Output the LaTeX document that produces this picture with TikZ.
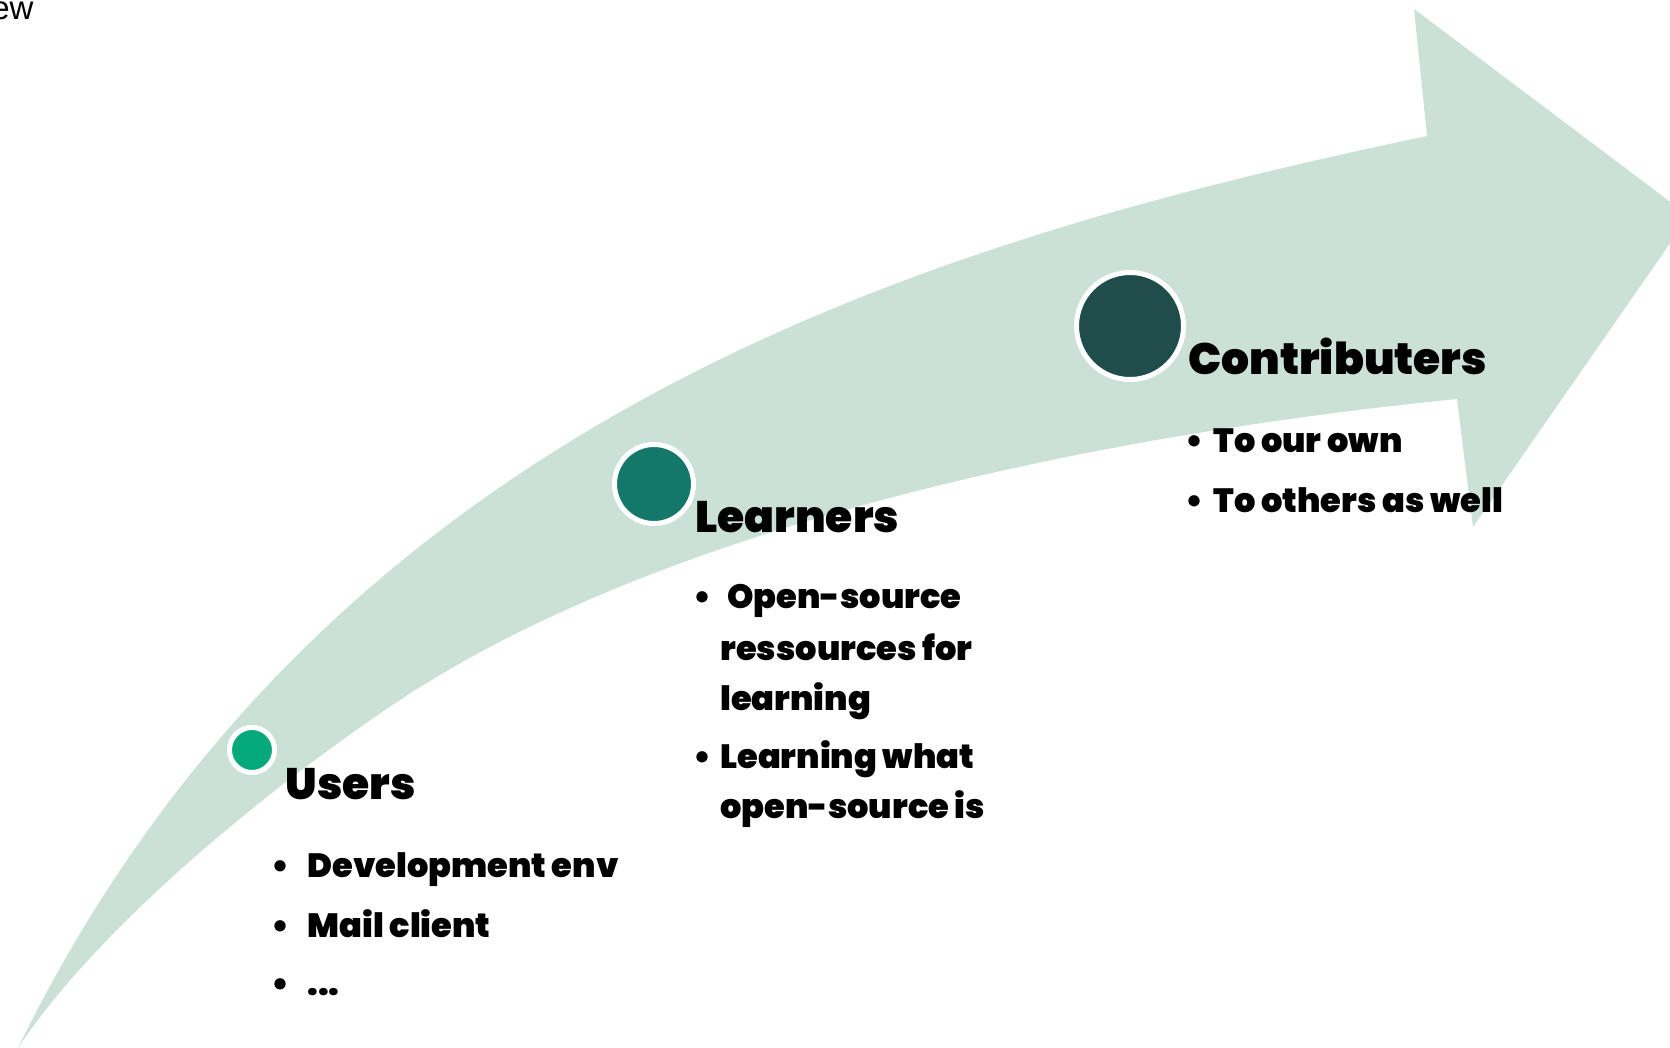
\documentclass[tikz,border=0pt]{standalone}
\usepackage{fontspec}
\setmainfont{Poppins}
\newfontfamily\heavyfont{Poppins Black}
\newfontfamily\plainfont{Liberation Sans}

\definecolor{band}{HTML}{CBE1D8}
\definecolor{usercol}{HTML}{03A97A}
\definecolor{learncol}{HTML}{13786A}
\definecolor{contribcol}{HTML}{1E4D4C}

\tikzset{
  stage/.style={circle, draw=white, line width=2.5pt, inner sep=0pt},
  head/.style={anchor=base west, inner sep=0pt, font=\heavyfont\fontsize{22}{26}\selectfont},
  item/.style={anchor=base west, inner sep=0pt, font=\heavyfont\fontsize{16.8}{20}\selectfont},
  dot/.style={anchor=base, inner sep=0pt, font=\heavyfont\fontsize{16.8}{20}\selectfont},
}

\begin{document}
\begin{tikzpicture}[x=0.5pt, y=-0.5pt]

      \useasboundingbox (0,0) rectangle (1670,1048);
      \clip (0,0) rectangle (1670,1048);

      % the curved arrow
      \fill [band] (18,1048) .. controls (326,418) and (927,241) .. (1427,136)
        -- (1414,9) -- (1689,216) -- (1473,527) -- (1457,399)
        .. controls (1057,439) and (650,535) .. (400,700)
        .. controls (275,783) and (100,924) .. cycle;

      \node[anchor=base west, inner sep=0pt, font=\plainfont\fontsize{16.5}{20}\selectfont]
        (title) at (-9,20) {ew};

      \node[stage, fill=usercol, minimum size=22.5pt] (cu) at (252,750) {};
      \node[stage, fill=learncol, minimum size=39.5pt] (cl) at (654,484) {};
      \node[stage, fill=contribcol, minimum size=53.5pt] (cc) at (1130,326) {};

      \node[head] (users) at (285,799) {Users};
      \node[head] (learners) at (695,532) {Learners};
      \node[head] (contrib) at (1188,374) {Contributers};

      \foreach \x/\y [count=\i] in {281/877, 281/937, 281/995, 702/608,
                                    702/768, 1194/452, 1194/512}
        \node[dot] (b\i) at (\x,\y) {\textbullet};

      \node[item] (u1) at (307,877) {Development env};
      \node[item] (u2) at (307,937) {Mail client};
      \node[item] (u3) at (307,995) {...};

      \node[item] (l1a) at (727,608) {Open-source};
      \node[item] (l1b) at (720,660) {ressources for};
      \node[item] (l1c) at (720,710) {learning};
      \node[item] (l2a) at (720,768) {Learning what};
      \node[item] (l2b) at (720,818) {open-source is};

      \node[item] (c1) at (1213,452) {To our own};
      \node[item] (c2) at (1213,512) {To others as well};

    \end{tikzpicture}
\end{document}
